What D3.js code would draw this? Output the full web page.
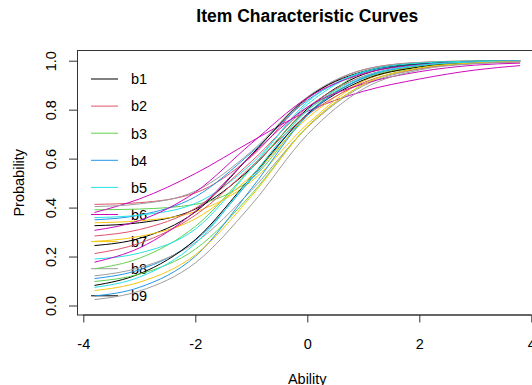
<!DOCTYPE html>
<html>
<head>
<meta charset="utf-8">
<script src="https://cdn.jsdelivr.net/npm/d3@7"></script>
<style>
  html, body { margin: 0; padding: 0; background: #fff; }
  svg text { font-family: "Liberation Sans", Arial, sans-serif; fill: #000; }
</style>
</head>
<body>
<div class="icc"></div>
<script>
// ability grid the curves were evaluated on
const theta = [-3.8, -3, -2, -1, 0, 1, 2, 3, 3.8];

// probability of a correct answer per item
const itemProbs = [
  [0.326, 0.338, 0.394, 0.561, 0.803, 0.944, 0.986, 0.997, 0.999],
  [0.413, 0.420, 0.460, 0.608, 0.844, 0.963, 0.993, 0.999, 1.000],
  [0.391, 0.394, 0.413, 0.517, 0.780, 0.952, 0.992, 0.999, 1.000],
  [0.350, 0.369, 0.444, 0.624, 0.838, 0.951, 0.987, 0.997, 0.999],
  [0.359, 0.369, 0.417, 0.578, 0.821, 0.954, 0.990, 0.998, 1.000],
  [0.380, 0.435, 0.539, 0.670, 0.793, 0.875, 0.925, 0.962, 0.980],
  [0.338, 0.346, 0.383, 0.507, 0.741, 0.917, 0.979, 0.995, 0.999],
  [0.404, 0.415, 0.467, 0.629, 0.852, 0.963, 0.992, 0.998, 1.000],
  [0.245, 0.274, 0.382, 0.615, 0.848, 0.956, 0.988, 0.997, 0.999],
  [0.284, 0.310, 0.397, 0.588, 0.809, 0.936, 0.981, 0.995, 0.998],
  [0.150, 0.193, 0.323, 0.560, 0.797, 0.927, 0.976, 0.993, 0.998],
  [0.110, 0.146, 0.266, 0.516, 0.784, 0.929, 0.980, 0.994, 0.998],
  [0.190, 0.214, 0.312, 0.560, 0.831, 0.955, 0.990, 0.998, 1.000],
  [0.307, 0.347, 0.463, 0.662, 0.848, 0.947, 0.983, 0.995, 0.998],
  [0.262, 0.282, 0.354, 0.530, 0.765, 0.917, 0.975, 0.993, 0.997],
  [0.121, 0.154, 0.257, 0.470, 0.728, 0.897, 0.966, 0.989, 0.996],
  [0.082, 0.129, 0.269, 0.525, 0.781, 0.921, 0.974, 0.992, 0.997],
  [0.212, 0.254, 0.369, 0.567, 0.778, 0.910, 0.968, 0.989, 0.995],
  [0.098, 0.128, 0.230, 0.454, 0.730, 0.903, 0.971, 0.991, 0.997],
  [0.039, 0.074, 0.201, 0.477, 0.776, 0.930, 0.981, 0.995, 0.998],
  [0.074, 0.116, 0.253, 0.525, 0.797, 0.934, 0.981, 0.995, 0.998],
  [0.177, 0.235, 0.385, 0.613, 0.810, 0.905, 0.955, 0.982, 0.990],
  [0.061, 0.095, 0.207, 0.446, 0.730, 0.903, 0.970, 0.991, 0.997],
  [0.024, 0.059, 0.174, 0.411, 0.698, 0.885, 0.962, 0.988, 0.996],
];

const legendLabels = ["b1", "b2", "b3", "b4", "b5", "b6", "b7", "b8", "b9"];
const xTicks = [-4, -2, 0, 2, 4];
const yTicks = [0, 0.2, 0.4, 0.6, 0.8, 1.0];

// R default palette, recycled
const palette = ["#000000", "#DF536B", "#61D04F", "#2297E6", "#28E2E5", "#CD0BBC", "#F5C710", "#9E9E9E"];

(() => {
  const width = 532;
  const height = 385;
  const plot = { left: 77.5, right: 537, top: 50.5, bottom: 315 };

  const svg = d3
    .select(".icc")
    .append("svg")
    .attr("width", width)
    .attr("height", height);

  const x = d3.scaleLinear().domain([-4, 4]).range([83.3, 531.3]);
  const y = d3.scaleLinear().domain([0, 1]).range([305.5, 60.7]);

  // title
  svg
    .append("text")
    .attr("x", (plot.left + plot.right) / 2)
    .attr("y", 22)
    .attr("text-anchor", "middle")
    .style("font-size", "17.5px")
    .style("font-weight", "bold")
    .text("Item Characteristic Curves");

  // legend (drawn before curves, like the original)
  const legend = svg.append("g").attr("class", "legend");
  legendLabels.forEach((lab, i) => {
    const ly = 79 + i * 27.1;
    legend
      .append("line")
      .attr("x1", 91)
      .attr("x2", 118)
      .attr("y1", ly)
      .attr("y2", ly)
      .style("stroke", palette[i % palette.length])
      .style("stroke-width", 1);
    legend
      .append("text")
      .attr("x", 131)
      .attr("y", ly + 5.3)
      .style("font-size", "14.5px")
      .text(lab);
  });

  // curves
  const line = d3
    .line()
    .x((d) => x(d[0]))
    .y((d) => y(d[1]))
    .curve(d3.curveMonotoneX);

  svg
    .append("g")
    .attr("class", "curves")
    .selectAll("path")
    .data(itemProbs)
    .enter()
    .append("path")
    .attr("d", (p) => line(p.map((v, j) => [theta[j], v])))
    .style("fill", "none")
    .style("stroke", (_, i) => palette[i % palette.length])
    .style("stroke-width", 1);

  // box
  svg
    .append("rect")
    .attr("x", plot.left)
    .attr("y", plot.top)
    .attr("width", plot.right - plot.left)
    .attr("height", plot.bottom - plot.top)
    .style("fill", "none")
    .style("stroke", "#333")
    .style("stroke-width", 1);

  // x axis
  const xAxis = svg
    .append("g")
    .attr("transform", `translate(0, ${plot.bottom})`)
    .call(d3.axisBottom(x).tickValues(xTicks).tickSize(7.5).tickPadding(0).tickFormat(d3.format("d")));
  xAxis.select(".domain").remove();
  xAxis.selectAll("line").style("stroke", "#333");
  xAxis
    .selectAll("text")
    .attr("y", 33.5)
    .attr("dy", null)
    .style("font-size", "14.5px")
    .style("font-family", "Liberation Sans, Arial, sans-serif")
    .style("fill", "#000")
    .text((d) => (d < 0 ? "-" + Math.abs(d) : d));
  xAxis
    .append("line")
    .attr("x1", x(-4))
    .attr("x2", x(4))
    .style("stroke", "#333");

  // y axis
  const yAxis = svg
    .append("g")
    .attr("transform", `translate(${plot.left}, 0)`)
    .call(d3.axisLeft(y).tickValues(yTicks).tickSize(8.5).tickFormat(d3.format(".1f")));
  yAxis.select(".domain").remove();
  yAxis.selectAll("line").style("stroke", "#333");
  yAxis
    .selectAll("text")
    .attr("x", null)
    .attr("dy", null)
    .attr("text-anchor", "middle")
    .attr("transform", "translate(-21.5, 0) rotate(-90)")
    .style("font-size", "14.5px")
    .style("font-family", "Liberation Sans, Arial, sans-serif")
    .style("fill", "#000");
  yAxis
    .append("line")
    .attr("y1", y(0))
    .attr("y2", y(1))
    .style("stroke", "#333");

  // axis titles
  svg
    .append("text")
    .attr("x", (plot.left + plot.right) / 2)
    .attr("y", 383.5)
    .attr("text-anchor", "middle")
    .style("font-size", "14.5px")
    .text("Ability");

  svg
    .append("text")
    .attr("transform", `translate(23.5, ${(plot.top + plot.bottom) / 2}) rotate(-90)`)
    .attr("text-anchor", "middle")
    .style("font-size", "14.5px")
    .text("Probability");
})();
</script>
</body>
</html>
